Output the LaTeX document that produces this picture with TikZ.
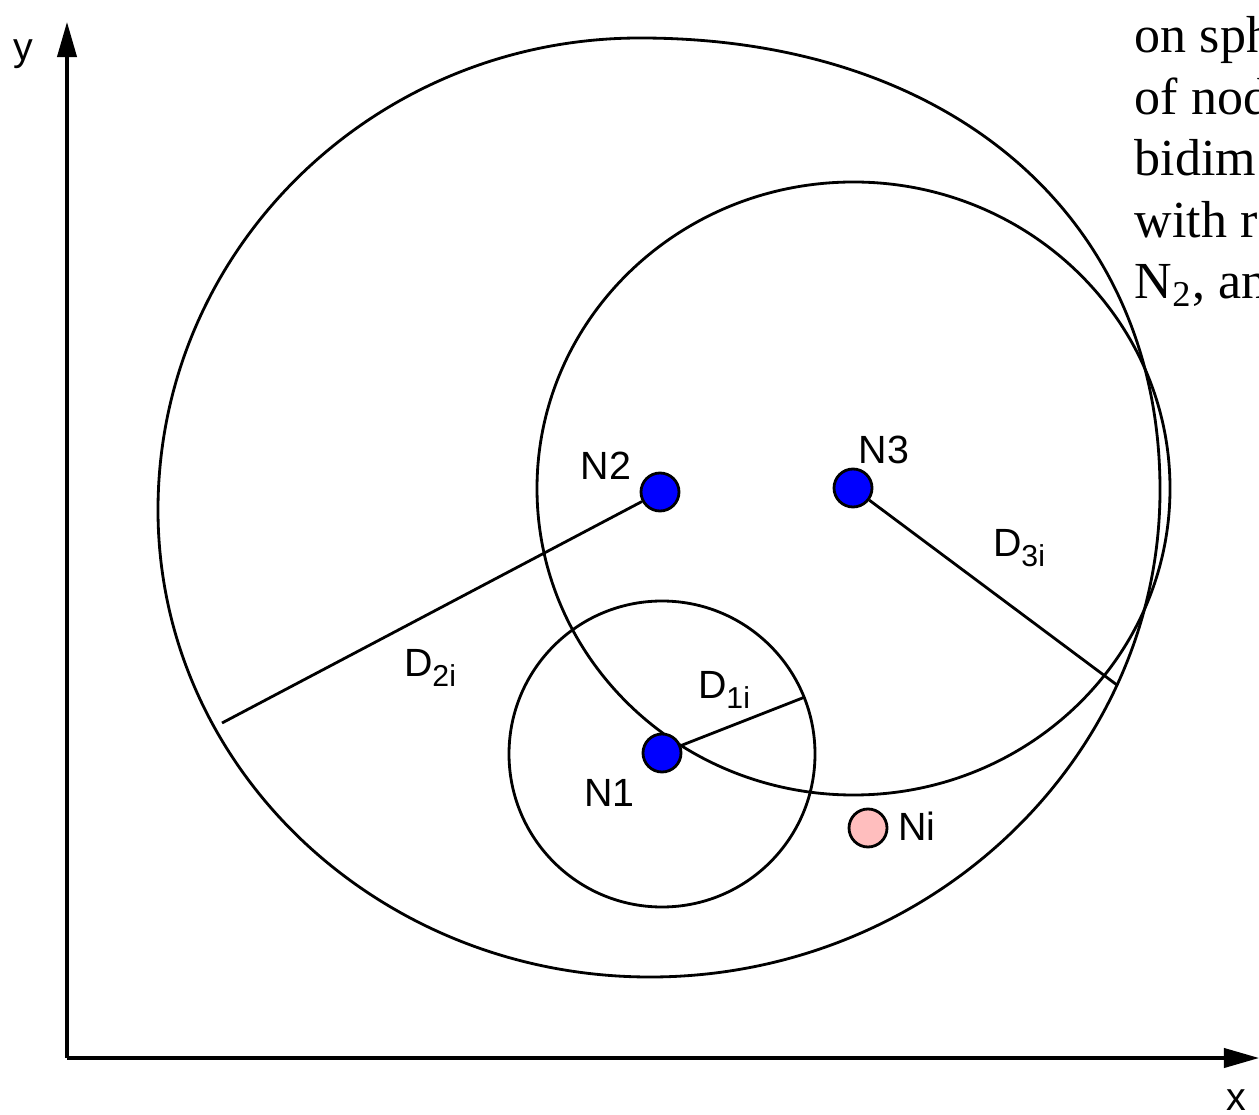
\documentclass[tikz,border=0pt]{standalone}
\usepackage{fontspec}
\setmainfont{Liberation Serif}
\setsansfont{Liberation Sans}
\usetikzlibrary{arrows.meta}
\definecolor{nipink}{RGB}{255,190,190}
\newcommand{\dsub}[1]{D\raisebox{-3pt}{\fontsize{8.6}{10}\selectfont #1}}
\tikzset{
	dot/.style={circle,draw,line width=0.8pt,minimum size=0.38cm,inner sep=0pt},
	lab/.style={font=\sffamily\fontsize{11.2}{13}\selectfont,inner sep=0pt},
}
\begin{document}
\begin{tikzpicture}[line width=0.8pt,>={Triangle[length=10pt,width=5.5pt]}]
	\useasboundingbox (0,0) rectangle (12.59,11.14);
		\path
	(0.67,0.56) coordinate (O)
	(0.67,10.92) coordinate (Y)
	(12.59,0.56) coordinate (X)
	(2.22,3.91) coordinate (E2)
	(8.05,4.17) coordinate (E1)
	(11.17,4.29) coordinate (E3)
	;
	\draw[->,line width=0.9pt] (O)--(Y);
	\draw[->,line width=0.9pt] (O)--(X);
	\node[lab] (ylab) at (0.235,10.60) {y};
	\node[lab] (xlab) at (12.36,0.14) {x};
	\draw (1.58,6.04) .. controls (1.58,8.65) and (3.74,10.76) .. (6.40,10.76)
		.. controls (9.53,10.76) and (11.60,8.95) .. (11.60,6.24)
		.. controls (11.60,3.55) and (9.29,1.37) .. (6.50,1.37)
		.. controls (3.78,1.37) and (1.58,3.46) .. cycle;
	\draw (8.535,6.255) ellipse [x radius=3.165,y radius=3.065];
	\draw (6.62,3.60) circle (1.53);
	\node[dot,fill=blue] (N2) at (6.60,6.22) {};
	\node[dot,fill=blue] (N3) at (8.53,6.26) {};
	\node[dot,fill=blue] (N1) at (6.62,3.61) {};
	\node[dot,fill=nipink] (Ni) at (8.68,2.86) {};
	\draw (N2)--(E2) (N1)--(E1) (N3)--(E3);
	\foreach \n/\g/\r in {N2/154/.6,N3/51/.49,N1/217/.66,Ni/2/.49}\path (\n) +(\g:\r) node[lab] (l\n) {\n};
	\node[lab] (D2) at (4.30,4.46) {\dsub{2i}};
	\node[lab] (D1) at (7.24,4.24) {\dsub{1i}};
	\node[lab] (D3) at (10.19,5.66) {\dsub{3i}};
	\begin{scope}
	\clip (0,0) rectangle (12.59,11.14);
	\foreach \t [count=\i] in {on sph,of nod,bidim,with r,{N\textsubscript{2}, an}}\node[anchor=base west,inner sep=0pt,font=\fontsize{14.8}{17}\selectfont] (t\i) at (11.335,{10.61-0.615*(\i-1)}) {\t};
	\end{scope}
\end{tikzpicture}
\end{document}
